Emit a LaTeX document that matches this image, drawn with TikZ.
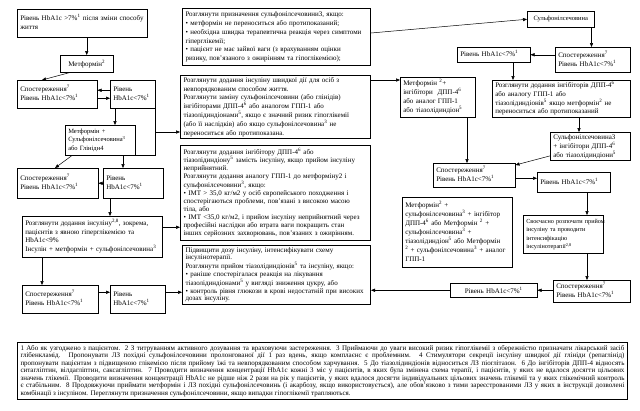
\documentclass[tikz,border=0pt]{standalone}
\usepackage{fontspec}
\setmainfont{Liberation Serif}
\usetikzlibrary{arrows.meta}
\newcommand{\fs}[1]{\fontsize{7}{#1}\selectfont}
\newcommand{\fss}[2]{\fontsize{#1}{#2}\selectfont}
\newcommand{\su}[1]{\textsuperscript{#1}}
\newcommand{\tl}[1]{\begin{tabular}{@{}l@{}}#1\end{tabular}}
\begin{document}
\begin{tikzpicture}[x=1pt,y=-1pt,
  bx/.style={draw, line width=0.5pt, anchor=north west, align=left, inner xsep=3pt, inner ysep=1pt, font=\fs{8.6}},
  bxc/.style={bx, align=center},
  tb/.style={bx, line width=1pt},
  arr/.style={-{Triangle[length=4pt,width=3.2pt]}, line width=0.5pt},
  ln/.style={line width=0.5pt}]
\useasboundingbox (0,0) rectangle (640,410);
\fill[white] (0,0) rectangle (640,410);
% left column
\node[bx, text width=124pt, minimum height=28pt] (b1) at (17,9) {\tl{Рівень HbA1c >7\%\su{1} після зміни способу\\життя}};
\node[bxc, text width=47pt, minimum height=17pt] (b2) at (60,55) {Метформін\su{2}};
\node[bx, text width=74pt, minimum height=28pt] (b3) at (17,80) {\tl{Спостереження\su{7}\\Рівень HbA1c<7\%\su{1}}};
\node[bx, text width=39pt, minimum height=28pt] (b4) at (110,80) {\tl{Рівень\\HbA1c<7\%\su{1}}};
\node[bx, text width=64pt, minimum height=30pt, font=\fss{6.5}{8.6}] (b5) at (65,125) {\tl{Метформін +\\Сульфонілсечовина\su{3}\\або Глінідн4}};
\node[bx, text width=75pt, minimum height=30pt] (b6) at (17,168) {\tl{Спостереження\su{7}\\Рівень HbA1c<7\%\su{1}}};
\node[bx, text width=54pt, minimum height=30pt] (b7) at (103,168) {\tl{Рівень\\HbA1c<7\%\su{1}}};
\node[bx, text width=134pt, minimum height=41pt] (b8) at (22,216) {\tl{Розглянути додання інсуліну\su{2,8}, зокрема,\\пацієнтів з явною гіперглікемією та\\HbA1c<9\%\\Інсулін + метформін + сульфонілсечовина\su{3}}};
\node[bx, text width=70pt, minimum height=28pt] (b9) at (22,285) {\tl{Спостереження\su{7}\\Рівень HbA1c<7\%\su{1}}};
\node[bx, text width=49pt, minimum height=28pt] (b10) at (110,285) {\tl{Рівень\\HbA1c<7\%\su{1}}};
% middle column
\node[tb, text width=182pt, minimum height=57pt, font=\fs{8.8}] (m1) at (182,8) {\tl{Розглянути призначення сульфонілсечовини3, якщо:\\• метформін не переноситься або протипоказаний;\\• необхідна швидка терапевтична реакція через симптоми\\гіперглікемії;\\• пацієнт не має зайвої ваги (з врахуванням оцінки\\ризику, пов’язаного з ожирінням та гіпоглікемією);}};
\node[tb, text width=184pt, minimum height=62pt] (m2) at (180,75) {\tl{Розглянути додання інсуліну швидкої дії для осіб з\\невпорядкованим способом життя.\\Розглянути заміну сульфонілсечовини (або глінідів)\\інгібіторами ДПП-4\su{6} або аналогом ГПП-1 або\\тіазолідиндіонами\su{5}, якщо є значний ризик гіпоглікемії\\(або її наслідків) або якщо сульфонілсечовина\su{3} не\\переноситься або протипоказана.}};
\node[tb, text width=184pt, minimum height=95pt, font=\fs{8.0}] (m3) at (180,145) {\tl{Розглянути додання інгібітору ДПП-4\su{6} або\\тіазолідиндіону\su{5} замість інсуліну, якщо прийом інсуліну\\неприйнятний.\\Розглянути додання аналогу ГПП-1 до метформіну2 і\\сульфонілсечовини\su{3}, якщо:\\• ІМТ > 35,0 кг/м2 у осіб європейського походження і\\спостерігаються проблеми, пов'язані з високою масою\\тіла, або\\• ІМТ <35,0 кг/м2, і прийом інсуліну неприйнятний через\\професійні наслідки або втрата ваги покращить стан\\інших серйозних захворювань, пов'язаних з ожирінням.}};
\node[tb, text width=182pt, minimum height=58pt, font=\fs{7.9}] (m4) at (182,245) {\tl{Підвищити дозу інсуліну, інтенсифікувати схему\\інсулінотерапії.\\Розглянути прийом тіазолідиндіонів\su{5} та інсуліну, якщо:\\• раніше спостерігалася реакція на лікування\\тіазолідиндіонами\su{5} у вигляді зниження цукру, або\\• контроль рівня глюкози в крові недостатній при високих\\дозах інсуліну.}};
% right column
\node[bxc, text width=61pt, minimum height=16pt, font=\fss{6.5}{8.6}] (r1) at (527,11) {Сульфонілсечовина};
\node[bx, text width=67pt, minimum height=15pt] (r2) at (457,47) {\tl{Рівень HbA1c<7\%\su{1}}};
\node[bx, text width=69pt, minimum height=25pt] (r3) at (555,47) {\tl{Спостереження\su{7}\\Рівень HbA1c<7\%\su{1}}};
\node[bx, text width=69pt, minimum height=40pt] (rm) at (400,77) {\tl{Метформін \su{2}+\\інгібітори~ ДПП-4\su{6}\\або аналог ГПП-1\\або тіазолідиндіон\su{5}}};
\node[bx, text width=132pt, minimum height=37pt] (r4) at (492,80) {\tl{Розглянути додання інгібіторів ДПП-4\su{6}\\або аналогу ГПП-1 або\\тіазолідиндіонів\su{5} якщо метформін\su{2} не\\переноситься або протипоказаний}};
\node[bx, text width=74pt, minimum height=28pt] (r5) at (550,132) {\tl{Сульфонілсечовина3\\+ інгібітори ДПП-4\su{6}\\або тіазолідиндіони\su{5}}};
\node[bx, text width=76pt, minimum height=24pt] (r6) at (433,163) {\tl{Спостереження\su{7}\\Рівень HbA1c<7\%\su{1}}};
\node[bx, text width=67pt, minimum height=20pt] (r7) at (537,172) {\tl{Рівень HbA1c<7\%\su{1}}};
\node[bx, text width=104pt, minimum height=70pt, font=\fs{8.9}] (r11) at (402,197) {\tl{Метформін\su{2} +\\сульфонілсечовина\su{3} + інгібітор\\ДПП-4\su{6} або Метформін \su{2} +\\сульфонілсечовина\su{3} +\\тіазолідиндіон\su{5} або Метформін\\\su{2} + сульфонілсечовина\su{3} + аналог\\ГПП-1}};
\node[bx, text width=74pt, minimum height=38pt, font=\fss{6.2}{8.6}] (r8) at (523,215) {\tl{Своєчасно розпочати прийом\\інсуліну та проводити\\інтенсифікацію\\інсулінотерапії\su{2,8}}};
\node[bx, text width=71pt, minimum height=22pt] (r9) at (553,280) {\tl{Спостереження\su{7}\\Рівень HbA1c<7\%\su{1}}};
\node[bxc, text width=81pt, minimum height=14pt] (r10) at (450,283) {Рівень HbA1c<7\%\su{1}};
% footnote
\node[tb, align=justify, text width=604pt, minimum height=57pt, font=\fs{7.5}] (fn) at (17,342) {\emergencystretch=20pt 1 Або як узгоджено з пацієнтом. 2 З титруванням активного дозування та враховуючи застереження. 3 Приймаючи до уваги високий ризик гіпоглікемії з обережністю призначати лікарський засіб\linebreak глібенкламід. Пропонувати ЛЗ похідні сульфонілсечовини пролонгованої дії 1 раз вдень, якщо комплаєнс є проблемним. 4 Стимулятори секреції інсуліну швидкої дії глініди (репаглінід)\linebreak пропонувати пацієнтам з підвищеною глікемією після прийому їжі та невпорядкованим способом харчування. 5 До тіазолідиндіонів відноситься ЛЗ піоглітазон. 6 До інгібіторів ДПП-4 відносять\linebreak ситагліптин, вілдагліптин, саксагліптин. 7 Проводити визначення концентрації HbA1c кожні 3 міс у пацієнтів, в яких була змінена схема терапії, і пацієнтів, у яких не вдалося досягти цільових\linebreak значень глікемії. Проводити визначення концентрації HbA1c не рідше ніж 2 рази на рік у пацієнтів, у яких вдалося досягти індивідуальних цільових значень глікемії та у яких глікемічний контроль\linebreak є стабільним. 8 Продовжуючи приймати метформін і ЛЗ похідні сульфонілсечовинь (і акарбозу, якщо використовується), але обов'язково з тими зареєстрованими ЛЗ у яких в інструкції дозволені\linebreak комбінації з інсуліном. Переглянути призначення сульфонілсечовини, якщо випадки гіпоглікемії трапляються.};
% free point of the bracket
\coordinate (k1) at (155,132);
% connectors left
\draw[arr] (b2.north |- b1.south) -- (b2.north);
\draw[arr] ([xshift=10pt]b2.south west) -- ([xshift=25pt]b3.north west);
\draw[arr] ([yshift=4pt]b4.west) -- ([yshift=4pt]b3.east);
\draw[arr] ([yshift=-4pt]b3.east) -- ([yshift=-4pt]b4.west);
\draw[arr] ([xshift=5pt]b4.south west) -- ([xshift=5pt]b4.south west |- b5.north);
\draw[ln] (b4.south east) -- (b4.south east |- b5.south) -- (b5.south east);
\draw[arr] (k1) -- (k1 -| m2.west);
\draw[arr] ([xshift=7pt]b5.south west) -- ([xshift=38pt]b6.north west);
\draw[arr] ([xshift=20pt]b7.north west |- b5.south) -- ([xshift=20pt]b7.north west);
\draw[arr] (b7.west) -- (b6.east);
\draw[arr] ([xshift=7pt]b7.south west) -- ([xshift=7pt]b7.south west |- b8.north);
\draw[arr] ([xshift=20pt]b8.south west) -- ([xshift=20pt]b8.south west |- b9.north);
\draw[arr] ([yshift=7pt]b9.east) -- ([yshift=7pt]b9.east -| b10.west);
\draw[arr] ([yshift=7pt]b10.east) -- ([yshift=7pt]b10.east -| m4.west);
\draw[arr] ([yshift=9.5pt]b8.east) -- ([yshift=9.5pt]b8.east -| m3.west);
% connectors right
\draw[arr] ([yshift=4pt]m1.east) -- (r1.west);
\draw[arr] ([xshift=-3pt]r1.south east) -- ([xshift=-3pt]r1.south east |- r3.north);
\draw[arr] (r3.west |- r2.east) -- (r2.east);
\draw[arr] ([xshift=56pt]r2.south west) -- ([xshift=56pt]r2.south west |- r4.north);
\draw[arr] ([yshift=-5pt]m2.north east) -- ([yshift=-5pt]m2.north east -| rm.west);
\draw[arr] ([xshift=67pt]rm.south west) -- ([xshift=67pt]rm.south west |- r6.north);
\draw[arr] ([xshift=87pt]r4.south west) -- ([xshift=87pt]r4.south west |- r5.north);
\draw[arr] ([yshift=5pt]r5.south west) -- ([yshift=-2pt]r6.north east);
\draw[arr] ([yshift=-3pt]r6.east) -- ([yshift=-3pt]r6.east -| r7.west);
\draw[arr] ([xshift=50pt]r7.south west) -- ([xshift=50pt]r7.south west |- r8.north);
\draw[arr] ([xshift=64pt]r8.south west) -- ([xshift=64pt]r8.south west |- r9.north);
\draw[arr] (r9.west |- r10.east) -- (r10.east);
\draw[arr] (r10.west) -- (r10.west -| m4.east);
\end{tikzpicture}
\end{document}
